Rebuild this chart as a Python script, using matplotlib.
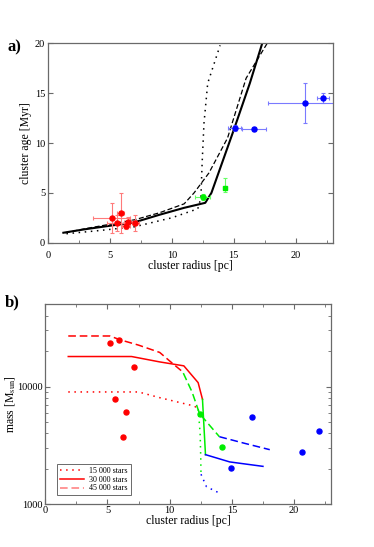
import matplotlib

matplotlib.use("Agg")
import matplotlib.pyplot as plt
from matplotlib.lines import Line2D
from matplotlib.ticker import FixedLocator, MultipleLocator, NullFormatter

plt.rcParams["font.family"] = ["Liberation Serif", "DejaVu Serif"]
plt.rcParams["mathtext.fontset"] = "stix"

# panel a: observed clusters (radius, age, errors)
red_r = [5.15, 5.88, 5.6, 6.29, 6.45, 7.07]
red_age = [2.5, 3.0, 2.0, 1.7, 2.1, 2.0]
red_rerr = [1.5, 0.3, 0.8, 0.3, 0.3, 0.3]
red_ageerr = [1.5, 2.0, 0.8, 0.3, 0.5, 0.8]

green_c_r, green_c_age, green_c_rerr, green_c_ageerr = [12.5], [4.6], [0.6], [0.3]
green_s_r, green_s_age, green_s_rerr = [14.3], [5.5], [0.15]
green_s_ageerr = [[0.4], [1.0]]

blue_r = [15.07, 16.64, 20.76, 22.2]
blue_age = [11.5, 11.4, 14.0, 14.55]
blue_rerr = [0.55, 1.0, 3.0, 0.45]
blue_ageerr = [0.3, 0.2, 2.0, 0.5]

# panel a: model tracks (radius, age)
solid_r = [1.25, 3.0, 5.0, 7.0, 9.0, 11.0, 12.7, 13.2, 15.0, 16.3, 17.3]
solid_age = [1.0, 1.35, 1.7, 2.05, 2.8, 3.5, 4.0, 5.0, 11.3, 16.0, 20.0]
dashed_r = [1.4, 3.0, 5.0, 7.0, 9.0, 11.0, 11.8, 13.0, 14.5, 16.0, 17.7]
dashed_age = [1.0, 1.4, 1.85, 2.3, 3.0, 3.9, 5.0, 7.0, 10.5, 16.5, 20.0]
dotted_r = [1.5, 4.0, 7.0, 10.0, 12.1, 12.35, 12.45, 12.6, 12.9, 13.9]
dotted_age = [0.9, 1.2, 1.6, 2.5, 3.4, 4.5, 8.0, 12.0, 16.0, 19.8]

# panel b: observed cluster masses
mred_r = [5.17, 5.9, 7.12, 5.6, 6.5, 6.27]
mred_m = [23300, 25000, 14600, 7830, 6110, 3760]
mgreen_r = [12.43, 14.19]
mgreen_m = [5880, 3050]
mblue_r = [14.97, 16.6, 20.67, 22.04]
mblue_m = [2030, 5540, 2760, 4200]

# panel b: model mass tracks, split by phase (red / green / blue)
m45_red_r = [1.85, 5.2, 6.0, 7.5, 9.2, 10.0, 10.95]
m45_red_m = [26900, 26900, 25000, 22500, 19500, 16500, 13600]
m45_green_r = [11.1, 11.8, 12.4, 13.2, 14.0]
m45_green_m = [13000, 9000, 5900, 4700, 3750]
m45_blue_r = [14.0, 16.0, 18.05]
m45_blue_m = [3750, 3300, 2910]

m30_red_r = [1.85, 6.94, 9.2, 11.14, 12.29, 12.64]
m30_red_m = [18000, 18000, 16200, 15000, 10800, 7790]
m30_green_r = [12.64, 12.88]
m30_green_m = [7790, 2640]
m30_blue_r = [12.88, 14.83, 17.5]
m30_blue_m = [2640, 2290, 2100]

m15_red_r = [1.85, 7.5, 9.2, 12.0, 12.3]
m15_red_m = [9000, 9000, 8050, 6820, 6400]
m15_green_r = [12.3, 12.45, 12.5, 12.52]
m15_green_m = [6400, 4000, 2500, 1800]
m15_blue_r = [12.52, 12.96, 13.9]
m15_blue_m = [1800, 1410, 1260]

legend_labels = ["15 000 stars", "30 000 stars", "45 000 stars"]

RED, GREEN, BLUE = "#ff0000", "#00ee00", "#0000ff"
LRED, LGREEN, LBLUE = "#ff7a7a", "#66ff66", "#7a7aff"
FRAME = "#6a6a6a"


def style_axes(ax, top_ticks, xpad):
    for spine in ax.spines.values():
        spine.set_color(FRAME)
        spine.set_linewidth(0.9)
    ax.tick_params(which="both", direction="in", colors=FRAME, labelcolor="black",
                   labelsize=7.5, right=True, top=top_ticks, pad=2)
    ax.tick_params(axis="x", which="both", pad=xpad)
    ax.tick_params(which="major", length=3.5)
    ax.tick_params(which="minor", length=2.5)


fig = plt.figure(figsize=(3.74, 5.47), dpi=100)

ax = fig.add_axes([0.128, 0.5563, 0.762, 0.3645])
ax.plot(dotted_r, dotted_age, color="black", linestyle=(0, (1, 3)), lw=1.1)
ax.plot(dashed_r, dashed_age, color="black", linestyle=(0, (4, 2)), lw=0.9)
ax.plot(solid_r, solid_age, color="black", lw=1.5)
ekw = dict(fmt="o", ms=3.6, capsize=1.6, elinewidth=0.8, capthick=0.8)
ax.errorbar(red_r, red_age, xerr=red_rerr, yerr=red_ageerr, color=RED, ecolor=LRED, **ekw)
ax.errorbar(green_c_r, green_c_age, xerr=green_c_rerr, yerr=green_c_ageerr, color=GREEN, ecolor=LGREEN, **ekw)
ax.errorbar(green_s_r, green_s_age, xerr=green_s_rerr, yerr=green_s_ageerr, color=GREEN, ecolor=LGREEN,
            fmt="s", ms=3.4, capsize=1.6, elinewidth=0.8, capthick=0.8)
ax.errorbar(blue_r, blue_age, xerr=blue_rerr, yerr=blue_ageerr, color=BLUE, ecolor=LBLUE, **ekw)
ax.set_xlim(0, 23)
ax.set_ylim(0, 20)
ax.xaxis.set_major_locator(MultipleLocator(5))
ax.xaxis.set_minor_locator(MultipleLocator(2.5))
ax.yaxis.set_major_locator(MultipleLocator(5))
style_axes(ax, top_ticks=False, xpad=6)
ax.set_xlabel("cluster radius [pc]", fontsize=8.5, labelpad=0)
ax.set_ylabel("cluster age [Myr]", fontsize=8.5, labelpad=2)
fig.text(0.02, 1 - 47 / 547, "a)", fontsize=12, fontweight="bold", va="center")

bx = fig.add_axes([0.121, 0.0781, 0.765, 0.3656])
bx.set_yscale("log")
dot, dash = (0, (1, 3)), (0, (5, 2.5))
for rs, ms, col in [(m15_red_r, m15_red_m, RED), (m15_green_r, m15_green_m, GREEN), (m15_blue_r, m15_blue_m, BLUE)]:
    bx.plot(rs, ms, color=col, linestyle=dot, lw=1.1)
for rs, ms, col in [(m30_red_r, m30_red_m, RED), (m30_green_r, m30_green_m, GREEN), (m30_blue_r, m30_blue_m, BLUE)]:
    bx.plot(rs, ms, color=col, lw=1.1)
for rs, ms, col in [(m45_red_r, m45_red_m, RED), (m45_green_r, m45_green_m, GREEN), (m45_blue_r, m45_blue_m, BLUE)]:
    bx.plot(rs, ms, color=col, linestyle=dash, lw=1.1)
bx.plot(mred_r, mred_m, "o", color=RED, ms=3.6)
bx.plot(mgreen_r, mgreen_m, "o", color=GREEN, ms=3.6)
bx.plot(mblue_r, mblue_m, "o", color=BLUE, ms=3.6)
bx.set_xlim(0, 23)
bx.set_ylim(1000, 50000)
bx.xaxis.set_major_locator(MultipleLocator(5))
bx.xaxis.set_minor_locator(MultipleLocator(2.5))
bx.yaxis.set_major_locator(FixedLocator([1000, 10000]))
bx.yaxis.set_major_formatter(matplotlib.ticker.FuncFormatter(lambda v, p: f"{int(v)}"))
bx.yaxis.set_minor_locator(FixedLocator([2000, 3000, 4000, 5000, 6000, 7000, 8000, 9000, 20000, 30000, 40000]))
bx.yaxis.set_minor_formatter(NullFormatter())
style_axes(bx, top_ticks=True, xpad=1.5)
bx.set_xlabel("cluster radius [pc]", fontsize=8.5, labelpad=0)
bx.set_ylabel("mass [M$_{\\rm sun}$]", fontsize=8.5, labelpad=0)
handles = [
    Line2D([], [], color=RED, linestyle=dot, lw=1.1),
    Line2D([], [], color=RED, lw=1.1),
    Line2D([], [], color=LRED, linestyle=dash, lw=1.1),
]
leg = bx.legend(handles, legend_labels, loc="lower left", fontsize=5.8, frameon=True, fancybox=False,
                handlelength=3.0, borderpad=0.35, labelspacing=0.1, handletextpad=0.7,
                borderaxespad=0, bbox_to_anchor=(0.04, 0.045))
leg.get_frame().set_edgecolor("#444444")
leg.get_frame().set_linewidth(0.7)
fig.text(0.012, 1 - 302 / 547, "b)", fontsize=12, fontweight="bold", va="center")

fig.savefig("out.png", dpi=100)
